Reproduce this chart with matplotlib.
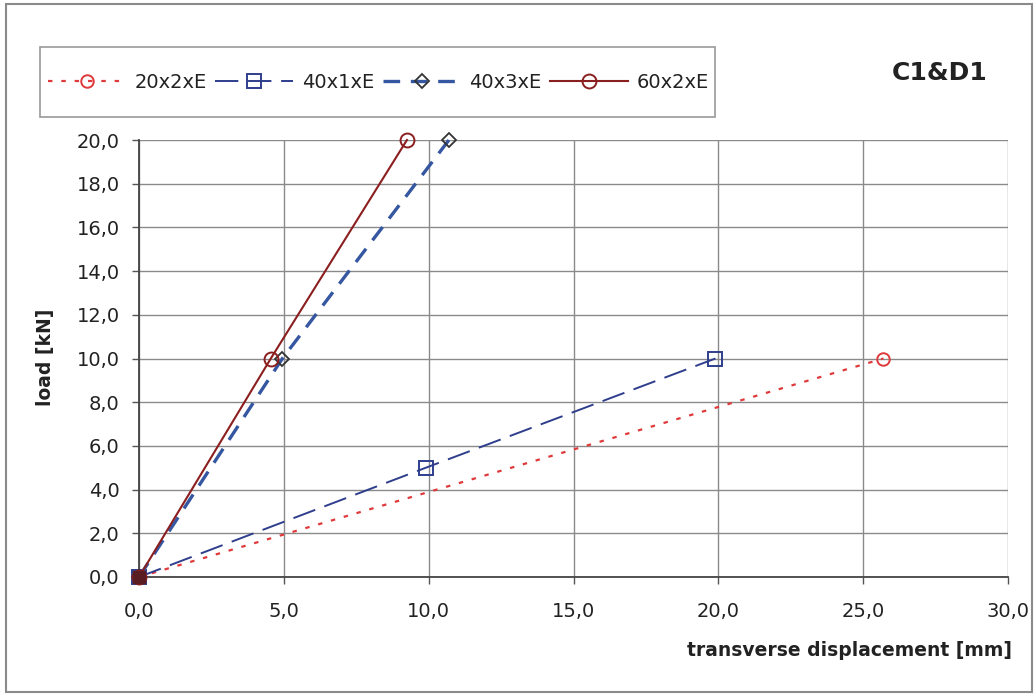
import matplotlib
matplotlib.use("Agg")
import matplotlib.pyplot as plt
from matplotlib.patches import Rectangle
from matplotlib.ticker import FuncFormatter

plt.rcParams['font.family'] = ['DejaVu Sans']

# Data
labels = ["20x2xE", "40x1xE", "40x3xE", "60x2xE"]
x_20x2 = [0.0, 25.7]
y_20x2 = [0.0, 10.0]
x_40x1 = [0.0, 9.9, 19.9]
y_40x1 = [0.0, 5.0, 10.0]
x_40x3 = [0.0, 4.95, 10.7]
y_40x3 = [0.0, 10.0, 20.0]
x_60x2 = [0.0, 4.55, 9.25]
y_60x2 = [0.0, 10.0, 20.0]

x_ticks = [0, 5, 10, 15, 20, 25, 30]
y_ticks = [0, 2, 4, 6, 8, 10, 12, 14, 16, 18, 20]

fig = plt.figure(figsize=(10.34, 6.95), dpi=100)
W, H = 1034, 695
ax = fig.add_axes([139 / W, 1 - 577 / H, (1008 - 139) / W, (577 - 140) / H])

ax.plot(x_20x2, y_20x2, linestyle=(0, (2, 4)), color='#E0393B', lw=1.6,
        marker='o', markersize=9, markerfacecolor='none', markeredgecolor='#E0393B',
        markeredgewidth=1.4, label=labels[0], zorder=3, clip_on=False)
ax.plot(x_40x1, y_40x1, linestyle=(0, (12, 5)), color='#2F3E8C', lw=1.4,
        marker='s', markersize=9.5, markerfacecolor='none', markeredgecolor='#2F3E8C',
        markeredgewidth=1.4, label=labels[1], zorder=3, clip_on=False)
ax.plot(x_40x3, y_40x3, linestyle=(0, (5, 3.2)), color='#3556A0', lw=2.4,
        marker='D', markersize=7.5, markerfacecolor='none', markeredgecolor='#333333',
        markeredgewidth=1.3, label=labels[2], zorder=3, clip_on=False)
ax.plot(x_60x2, y_60x2, linestyle='-', color='#8B1E1E', lw=1.5,
        marker='o', markersize=10, markerfacecolor='none', markeredgecolor='#8B1E1E',
        markeredgewidth=1.4, label=labels[3], zorder=4, clip_on=False)
ax.plot([0], [0], marker='s', markersize=9, color='#5A1E22', zorder=5, clip_on=False)

ax.set_xlim(0, 30)
ax.set_ylim(0, 20)
ax.set_xticks(x_ticks)
ax.set_yticks(y_ticks)
fmt = FuncFormatter(lambda v, p: f"{v:.1f}".replace('.', ','))
ax.xaxis.set_major_formatter(fmt)
ax.yaxis.set_major_formatter(fmt)
ax.tick_params(axis='both', labelsize=14, direction='out', length=5, width=1,
               color='#555555', labelcolor='#222222')
ax.tick_params(axis='x', pad=13)
ax.tick_params(axis='y', pad=9)
ax.grid(True, color='#8a8a8a', lw=1.0)
ax.set_axisbelow(True)
for s in ['top', 'right']:
    ax.spines[s].set_visible(False)
for s in ['left', 'bottom']:
    ax.spines[s].set_color('#444444')
    ax.spines[s].set_linewidth(1.3)

fig.text(1012 / W, 1 - 651 / H, "transverse displacement [mm]", ha='right', va='center',
         fontsize=13.5, fontweight='bold', color='#222222')
fig.text(45 / W, 1 - 357 / H, "load [kN]", ha='center', va='center', rotation=90,
         fontsize=13.5, fontweight='bold', color='#222222')
fig.text(940 / W, 1 - 73 / H, "C1&D1", ha='center', va='center',
         fontsize=18, fontweight='bold', color='#222222')

leg = fig.legend(loc='center left', bbox_to_anchor=(40 / W, 1 - 82 / H), ncol=4,
                 fontsize=14, frameon=False, handlelength=4.0, columnspacing=0.45,
                 handletextpad=0.45, borderaxespad=0)
for t in leg.get_texts():
    t.set_color('#222222')

fig.patches.append(Rectangle((40 / W, 1 - 117 / H), (715 - 40) / W, (117 - 47) / H,
                             transform=fig.transFigure, fill=False, edgecolor='#999999', lw=1.2))
fig.patches.append(Rectangle((6 / W, 1 - 692 / H), (1032 - 6) / W, (692 - 4) / H,
                             transform=fig.transFigure, fill=False, edgecolor='#8a8a8a', lw=1.5))

fig.savefig("out.png", dpi=100)
